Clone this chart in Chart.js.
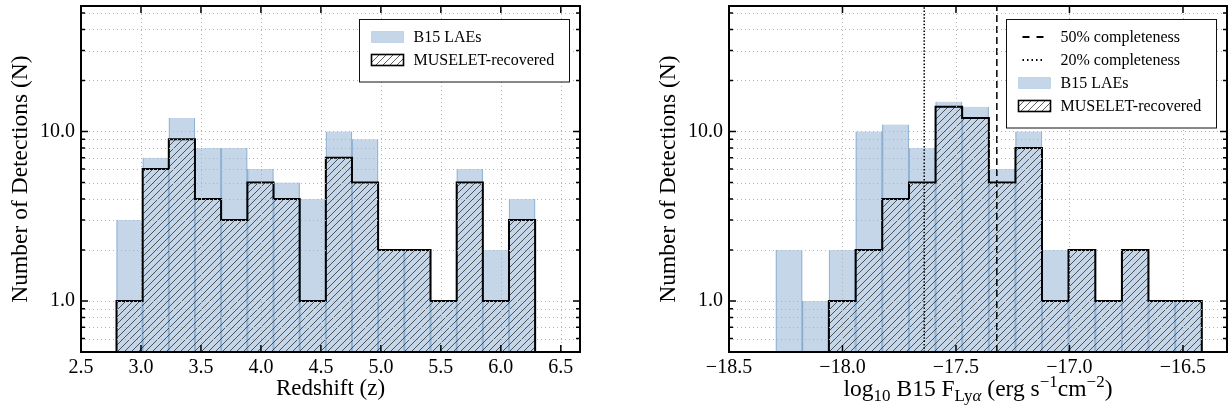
<!DOCTYPE html>
<html>
<head>
<meta charset="utf-8">
<script src="https://cdn.jsdelivr.net/npm/chart.js@4/dist/chart.umd.min.js"></script>
<style>
html, body { margin: 0; padding: 0; background: #fff; }
#wrap { position: relative; width: 1228px; height: 411px; overflow: hidden; background: #fff; }
canvas { position: absolute; top: 0; }
#cz { left: 0; }
#cf { left: 614px; }
</style>
</head>
<body>
<div id="wrap">
  <canvas id="cz" width="614" height="411"></canvas>
  <canvas id="cf" width="614" height="411"></canvas>
</div>
<script>
// ---------------- data ----------------
// Left panel: redshift histogram
const zEdges = [2.796, 3.014, 3.232, 3.450, 3.668, 3.887, 4.105, 4.323, 4.541,
                4.759, 4.977, 5.195, 5.414, 5.632, 5.850, 6.068, 6.286];
const zB15 = [3, 7, 12, 8, 8, 6, 5, 4, 10, 9, 2, 2, 1, 6, 2, 4];
const zMuselet = [1, 6, 9, 4, 3, 5, 4, 1, 7, 5, 2, 2, 1, 5, 1, 3];
const zTicks = [2.5, 3.0, 3.5, 4.0, 4.5, 5.0, 5.5, 6.0, 6.5];

// Right panel: log10 Lya flux histogram
const fEdges = [-18.294, -18.177, -18.060, -17.942, -17.825, -17.707, -17.590, -17.473, -17.355,
                -17.238, -17.121, -17.004, -16.886, -16.769, -16.652, -16.534, -16.417];
const fB15 = [2, 1, 2, 10, 11, 8, 15, 14, 6, 10, 2, 2, 1, 2, 1, 1];
const fMuselet = [0, 0, 1, 2, 4, 5, 14, 12, 5, 8, 1, 2, 1, 2, 1, 1];
const fTicks = [-18.5, -18.0, -17.5, -17.0, -16.5];
const fComplete50 = -17.32;
const fComplete20 = -17.64;

// Shared y axis (log)
const yTicks = [0.5, 0.6, 0.7, 0.8, 0.9, 1, 2, 3, 4, 5, 6, 7, 8, 9, 10, 20, 30, 40, 50];
const yLabelled = [1, 10];
const YMIN = 0.5, YMAX = 55;

// ---------------- styling ----------------
const FONT = '"Liberation Serif", "Times New Roman", serif';
const BLUE_FILL = 'rgba(60,120,180,0.30)';
const BLUE_EDGE = 'rgba(60,120,180,0.45)';
Chart.defaults.color = '#000';

function makeHatch() {
  const s = 7, c = document.createElement('canvas');
  c.width = s; c.height = s;
  const g = c.getContext('2d');
  g.strokeStyle = 'rgba(20,20,20,0.8)';
  g.lineWidth = 0.85;
  g.beginPath();
  g.moveTo(0, s); g.lineTo(s, 0);
  g.moveTo(-1, 1); g.lineTo(1, -1);
  g.moveTo(s - 1, s + 1); g.lineTo(s + 1, s - 1);
  g.stroke();
  return g.createPattern(c, 'repeat');
}
const HATCH = makeHatch();

function fmt(v) { return (v < 0 ? '\u2212' : '') + Math.abs(v).toFixed(1); }

function barData(edges, counts) {
  return counts.map((c, i) => ({ x: (edges[i] + edges[i + 1]) / 2, y: c }));
}
function outlineData(edges, counts) {
  const first = counts.findIndex(c => c > 0);
  const pts = [{ x: edges[first], y: YMIN }];
  for (let i = first; i < counts.length; i++) pts.push({ x: edges[i], y: counts[i] > 0 ? counts[i] : YMIN });
  pts.push({ x: edges[counts.length], y: YMIN });
  return pts;
}
function b15Dataset(edges, counts) {
  return { type: 'bar', label: 'B15 LAEs', data: barData(edges, counts),
    backgroundColor: BLUE_FILL, borderColor: BLUE_EDGE,
    borderWidth: { left: 0.6, right: 0.6, top: 0, bottom: 0 }, borderSkipped: false,
    barPercentage: 1, categoryPercentage: 1, base: YMIN, order: 3, kind: 'bar' };
}
function museletDataset(edges, counts) {
  return { type: 'line', label: 'MUSELET-recovered', data: outlineData(edges, counts),
    stepped: 'before', borderColor: '#000', borderWidth: 2, borderJoinStyle: 'miter',
    pointRadius: 0, fill: 'start', backgroundColor: HATCH, order: 2, kind: 'hatch' };
}
function vlineDataset(label, xv, dash, legendDash) {
  return { type: 'line', label, data: [{ x: xv, y: YMIN }, { x: xv, y: YMAX }],
    borderColor: '#000', borderWidth: 1.5, borderDash: dash, pointRadius: 0, fill: false,
    order: 1, kind: 'line', legendDash };
}

function makeScales(xmin, xmax, xticks, xTitle, yTitlePad, yWidth) {
  return {
    x: {
      type: 'linear', min: xmin, max: xmax, offset: false,
      grid: { display: false, drawTicks: false, offset: false }, border: { display: false },
      afterBuildTicks: s => { s.ticks = xticks.map(v => ({ value: v })); },
      afterFit: s => { s.height = 59; s.paddingLeft = 0; s.paddingRight = 0; },
      ticks: { autoSkip: false, maxRotation: 0, minRotation: 0, padding: 4, color: '#000',
               font: { family: FONT, size: 20 }, callback: v => fmt(v) },
      title: xTitle ? { display: true, text: xTitle, color: '#000', font: { family: FONT, size: 23 },
                        padding: { top: 0, bottom: 8 } } : { display: false }
    },
    y: {
      type: 'logarithmic', min: YMIN, max: YMAX,
      grid: { display: false, drawTicks: false }, border: { display: false },
      afterBuildTicks: s => { s.ticks = yTicks.map(v => ({ value: v, major: yLabelled.includes(v) })); },
      afterFit: s => { s.width = yWidth; s.paddingTop = 0; s.paddingBottom = 0; },
      ticks: { autoSkip: false, padding: 6, color: '#000', font: { family: FONT, size: 20 },
               callback: v => yLabelled.includes(v) ? v.toFixed(1) : '' },
      title: { display: true, text: 'Number of Detections (N)', color: '#000',
               font: { family: FONT, size: 23.5 }, padding: { top: yTitlePad, bottom: 0 } }
    }
  };
}

function decorPlugin(xticks, extraTitle) {
  return {
    id: 'decor',
    afterDatasetsDraw(chart) {
      const { ctx, chartArea: a, scales: { x, y } } = chart;
      // dotted grid
      ctx.save();
      ctx.beginPath(); ctx.rect(a.left, a.top, a.right - a.left, a.bottom - a.top); ctx.clip();
      ctx.strokeStyle = '#b4b4b4'; ctx.lineWidth = 1; ctx.setLineDash([1, 3]);
      ctx.beginPath();
      yTicks.forEach(v => { const p = Math.round(y.getPixelForValue(v)) + 0.5; ctx.moveTo(a.left, p); ctx.lineTo(a.right, p); });
      xticks.forEach(v => { const p = Math.round(x.getPixelForValue(v)) + 0.5; ctx.moveTo(p, a.top); ctx.lineTo(p, a.bottom); });
      ctx.stroke();
      ctx.restore();
      // inward tick marks on all sides + frame
      ctx.save();
      ctx.strokeStyle = '#000'; ctx.lineWidth = 1.5; ctx.setLineDash([]);
      ctx.beginPath();
      yTicks.forEach(v => {
        const p = y.getPixelForValue(v), L = yLabelled.includes(v) ? 7 : 4;
        ctx.moveTo(a.left, p); ctx.lineTo(a.left + L, p);
        ctx.moveTo(a.right, p); ctx.lineTo(a.right - L, p);
      });
      xticks.forEach(v => {
        const p = x.getPixelForValue(v);
        ctx.moveTo(p, a.bottom); ctx.lineTo(p, a.bottom - 7);
        ctx.moveTo(p, a.top); ctx.lineTo(p, a.top + 7);
      });
      ctx.stroke();
      ctx.lineWidth = 2;
      ctx.strokeRect(a.left, a.top, a.right - a.left, a.bottom - a.top);
      ctx.restore();
    },
    afterDraw(chart) {
      const { ctx, chartArea: a } = chart;
      const items = chart.data.datasets;
      const W = 210, step = 23;
      const H = 17.5 + (items.length - 1) * step + 22;
      const bx = Math.round(a.right - 11 - W) + 0.5, by = Math.round(a.top + 12.5) + 0.5;
      ctx.save();
      ctx.fillStyle = '#fff';
      ctx.fillRect(bx, by, W, H);
      ctx.strokeStyle = '#111'; ctx.lineWidth = 1; ctx.setLineDash([]);
      ctx.strokeRect(bx, by, W, H);
      ctx.font = '16px ' + FONT;
      ctx.textBaseline = 'middle';
      items.forEach((ds, i) => {
        const cy = by + 17.5 + i * step;
        if (ds.kind === 'line') {
          ctx.save();
          ctx.strokeStyle = '#000'; ctx.lineWidth = 1.8; ctx.setLineDash(ds.legendDash);
          ctx.beginPath(); ctx.moveTo(bx + 16, cy); ctx.lineTo(bx + 38, cy); ctx.stroke();
          ctx.restore();
        } else if (ds.kind === 'bar') {
          ctx.fillStyle = BLUE_FILL; ctx.fillRect(bx + 12, cy - 5.5, 32, 11);
          ctx.strokeStyle = 'rgba(60,120,180,0.2)'; ctx.lineWidth = 1; ctx.strokeRect(bx + 12, cy - 5.5, 32, 11);
        } else {
          ctx.fillStyle = HATCH; ctx.fillRect(bx + 12, cy - 5.5, 32, 11);
          ctx.strokeStyle = '#000'; ctx.lineWidth = 1.6; ctx.strokeRect(bx + 12, cy - 5.5, 32, 11);
        }
        ctx.fillStyle = '#000';
        ctx.fillText(ds.label, bx + 54, cy + 1);
      });
      ctx.restore();
      if (extraTitle) extraTitle(chart);
    }
  };
}

// x title of the flux panel, with sub/superscripts
const fluxTitleParts = [
  { t: 'log', s: 'main', dy: 0 }, { t: '10', s: 'sub', dy: 5 },
  { t: ' B15 F', s: 'main', dy: 0 }, { t: 'Ly', s: 'sub', dy: 5 }, { t: '\u03B1', s: 'subit', dy: 5 },
  { t: ' (erg s', s: 'main', dy: 0 }, { t: '\u22121', s: 'sub', dy: -9 },
  { t: 'cm', s: 'main', dy: 0 }, { t: '\u22122', s: 'sub', dy: -9 }, { t: ')', s: 'main', dy: 0 }
];
function drawFluxTitle(chart) {
  const { ctx, chartArea: a } = chart;
  const fonts = { main: '23.5px ' + FONT, sub: '17px ' + FONT, subit: 'italic 17px ' + FONT };
  ctx.save();
  ctx.fillStyle = '#000'; ctx.textBaseline = 'alphabetic'; ctx.textAlign = 'left';
  let total = 0;
  fluxTitleParts.forEach(p => { ctx.font = fonts[p.s]; p.w = ctx.measureText(p.t).width; total += p.w; });
  let x0 = (a.left + a.right) / 2 - total / 2;
  const base = 396;
  fluxTitleParts.forEach(p => { ctx.font = fonts[p.s]; ctx.fillText(p.t, x0, base + p.dy); x0 += p.w; });
  ctx.restore();
}

// ---------------- charts ----------------
new Chart(document.getElementById('cz'), {
  type: 'bar',
  data: { datasets: [ b15Dataset(zEdges, zB15), museletDataset(zEdges, zMuselet) ] },
  options: {
    responsive: false, animation: false, devicePixelRatio: 1,
    layout: { padding: { left: 0, right: 34, top: 6, bottom: 0 } },
    plugins: { legend: { display: false }, tooltip: { enabled: false } },
    scales: makeScales(2.5, 6.66, zTicks, 'Redshift (z)', 7, 81)
  },
  plugins: [decorPlugin(zTicks, null)]
});

new Chart(document.getElementById('cf'), {
  type: 'bar',
  data: { datasets: [
    vlineDataset('50% completeness', fComplete50, [7, 4], [7, 7]),
    vlineDataset('20% completeness', fComplete20, [1.5, 1.8], [1.5, 3]),
    b15Dataset(fEdges, fB15),
    museletDataset(fEdges, fMuselet)
  ] },
  options: {
    responsive: false, animation: false, devicePixelRatio: 1,
    layout: { padding: { left: 0, right: 1, top: 6, bottom: 0 } },
    plugins: { legend: { display: false }, tooltip: { enabled: false } },
    scales: makeScales(-18.5, -16.306, fTicks, null, 41, 115)
  },
  plugins: [decorPlugin(fTicks, drawFluxTitle)]
});
</script>
</body>
</html>
